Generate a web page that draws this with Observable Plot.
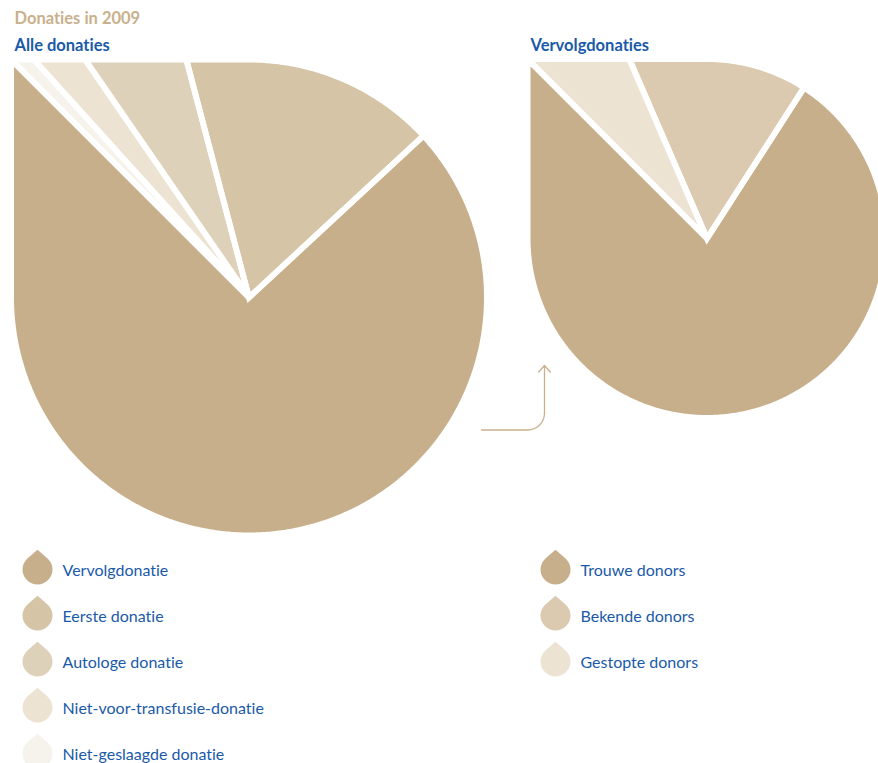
<!DOCTYPE html>
<html>
<head>
<meta charset="utf-8">
<script src="https://cdn.jsdelivr.net/npm/d3@7"></script>
<script src="https://cdn.jsdelivr.net/npm/@observablehq/plot@0.6"></script>
<style>
  html, body { margin: 0; padding: 0; background: #fff; }
  svg { display: block; }
  svg text { font-variant-ligatures: none; font-feature-settings: "liga" 0, "clig" 0; }
</style>
</head>
<body>
<div id="chart"></div>
<script>
// ---- Data ----
const titleText = "Donaties in 2009";
const pieTitles = ["Alle donaties", "Vervolgdonaties"];
const allCategories = ["Vervolgdonatie", "Eerste donatie", "Autologe donatie", "Niet-voor-transfusie-donatie", "Niet-geslaagde donatie"];
const allShares = [74.4, 17.2, 5.5, 2.1, 0.8];
const followCategories = ["Trouwe donors", "Bekende donors", "Gestopte donors"];
const followShares = [78.4, 15.6, 6.0];

// ---- Styles ----
const palette = ["#c8af8b", "#d5c4a5", "#ded1ba", "#ece3d3", "#f6f2ec", "#c8af8b", "#dbcaaf", "#ece3d3"];
const blue = "#1a5aa8";
const tan = "#c9b08c";
const FONT = "Lato, 'Open Sans', sans-serif";

// ---- Layout ----
const W = 878, H = 763;
const pies = [{cx: 248.5, cy: 297, R: 235}, {cx: 706.5, cy: 238, R: 176.5}];
const GAP = 5.8;

function boundary(cx, cy, R, deg) {
  const t = ((deg % 360) + 360) % 360;
  const a = deg * Math.PI / 180;
  const s = Math.sin(a), c = Math.cos(a);
  let r = R;
  if (t >= 270) r = R / Math.max(Math.abs(s), Math.abs(c)); // square top-left corner
  return [cx + r * s, cy - r * c];
}
function arcAngles(a0, a1) {
  const n = Math.max(2, Math.ceil((a1 - a0) / 0.5));
  const out = [];
  for (let i = 0; i <= n; i++) out.push(a0 + (a1 - a0) * i / n);
  for (const k of [-45, 315, 675]) if (k > a0 && k < a1) out.push(k);
  out.sort((a, b) => a - b);
  return out;
}
function pieRows(cats, shares, {cx, cy, R}, pieId) {
  const rows = [];
  const total = d3.sum(shares);
  let end = 315;
  const Rg = R + GAP / 2;
  cats.forEach((name, i) => {
    const a1 = end, a0 = end - shares[i] / total * 360;
    end = a0;
    const angs = arcAngles(a0, a1);
    const m = Math.floor(angs.length / 2);
    const seq = [
      ...angs.slice(m).map(a => boundary(cx, cy, Rg, a)),
      [cx, cy],
      ...angs.slice(0, m + 1).map(a => boundary(cx, cy, Rg, a))
    ];
    seq.forEach(([x, y]) => rows.push({key: pieId + ":" + name, name, x, y}));
  });
  return rows;
}

const sliceRows = [
  ...pieRows(allCategories, allShares, pies[0], "all"),
  ...pieRows(followCategories, followShares, pies[1], "follow")
];

const legendRows = [
  ...allCategories.map((name, i) => ({name, ix: 37, tx: 62, y: 570 + 46 * i})),
  ...followCategories.map((name, i) => ({name, ix: 555, tx: 580, y: 570 + 46 * i}))
];

const titleRows = [
  {text: titleText, x: 14, y: 18, color: tan},
  {text: pieTitles[0], x: 14, y: 45, color: blue},
  {text: pieTitles[1], x: 530, y: 45, color: blue}
];

// connector arrow geometry
const arrowPts = [];
arrowPts.push({x: 481, y: 429.5});
for (let i = 0; i <= 12; i++) {
  const a = Math.PI / 2 - (Math.PI / 2) * i / 12;
  arrowPts.push({x: 527 + 17 * Math.cos(a), y: 412.5 + 17 * Math.sin(a)});
}
const arrowHead = [{x1: 544, y1: 413, x2: 544, y2: 365}];

// drop-shaped legend symbol
const drop = {
  draw(context, size) {
    const r = Math.sqrt(size / Math.PI);
    const d = 1.32 * r;
    const al = Math.acos(r / d);
    context.moveTo(0, -d);
    context.lineTo(r * Math.sin(al), -r * Math.cos(al));
    context.arc(0, 0, r, -Math.PI / 2 + al, 3 * Math.PI / 2 - al, false);
    context.closePath();
  }
};

const chart = Plot.plot({
  width: W,
  height: H,
  margin: 0,
  x: {domain: [0, W], range: [0, W], axis: null},
  y: {domain: [0, H], range: [0, H], axis: null},
  color: {domain: [...allCategories, ...followCategories], range: palette},
  marks: [
    Plot.line(sliceRows, {x: "x", y: "y", z: "key", fill: "name", stroke: "none", curve: "linear"}),
    Plot.line(sliceRows, {x: "x", y: "y", z: "key", fill: "none", stroke: "white", strokeWidth: GAP,
      strokeLinejoin: "miter", strokeLinecap: "butt", strokeMiterlimit: 4, curve: "linear"}),
    Plot.line(arrowPts, {x: "x", y: "y", stroke: tan, strokeWidth: 1.3, curve: "linear"}),
    Plot.arrow(arrowHead, {x1: "x1", y1: "y1", x2: "x2", y2: "y2", stroke: tan, strokeWidth: 1.3,
      headLength: 10, headAngle: 84, insetEnd: 0, insetStart: 0}),
    Plot.dot(legendRows, {x: "ix", y: d => d.y - 1, fill: "name", r: 15, symbol: drop, stroke: "none"}),
    Plot.text(legendRows, {x: "tx", y: "y", text: "name", fill: blue, textAnchor: "start",
      fontSize: 16, fontFamily: FONT}),
    Plot.text(titleRows, {x: "x", y: "y", text: "text", fill: d => d.color, textAnchor: "start",
      fontSize: 16.5, fontWeight: "bold", fontFamily: FONT})
  ]
});
document.getElementById("chart").append(chart);
</script>
</body>
</html>
